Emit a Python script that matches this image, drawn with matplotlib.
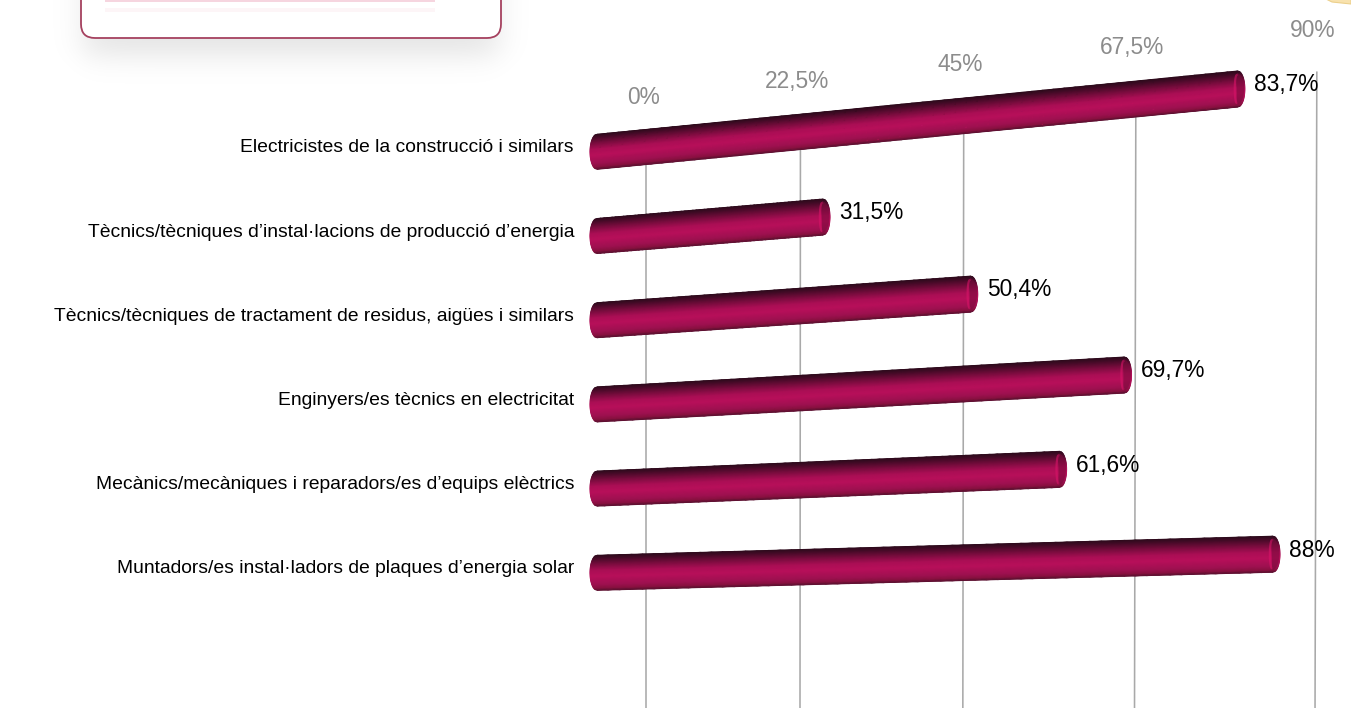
import numpy as np
import matplotlib
matplotlib.use("Agg")
import matplotlib.pyplot as plt
from matplotlib.colors import LinearSegmentedColormap
from matplotlib.patches import FancyBboxPatch, Polygon

categories = [
    "Electricistes de la construcció i similars",
    "Tècnics/tècniques d’instal·lacions de producció d’energia",
    "Tècnics/tècniques de tractament de residus, aigües i similars",
    "Enginyers/es tècnics en electricitat",
    "Mecànics/mecàniques i reparadors/es d’equips elèctrics",
    "Muntadors/es instal·ladors de plaques d’energia solar",
]
values = [83.7, 31.5, 50.4, 69.7, 61.6, 88.0]
value_labels = ["83,7%", "31,5%", "50,4%", "69,7%", "61,6%", "88%"]
ticks = [0, 22.5, 45, 67.5, 90]
tick_labels = ["0%", "22,5%", "45%", "67,5%", "90%"]

W, H = 1351, 708
plt.rcParams["font.family"] = ["Liberation Sans", "DejaVu Sans"]
fig = plt.figure(figsize=(W / 100, H / 100), dpi=100, facecolor="white")
ax = fig.add_axes([0, 0, 1, 1])
ax.set_xlim(0, W)
ax.set_ylim(H, 0)
ax.axis("off")


def bar_x(v):
    return 590 + 7.495 * v + 0.00393 * v * v


def bar_y(x, rank):
    return 152.5 + 84.1 * rank - (0.098 - 0.0141 * rank) * (x - 590)


def grid_x(v):
    return 646 + 6.648 * v + 0.00873 * v * v


# legend card shadow + card (cropped by the top of the picture)
yy, xx = np.mgrid[0:H // 2, 0:620]
def soft(a, lo, hi, s):
    return 0.5 * (np.tanh((a - lo) / s) - np.tanh((a - hi) / s))
sh = 0.105 * soft(xx + 0.5, 84, 498, 19) * soft(yy + 0.5, -60, 56, 17)
rgba = np.zeros(sh.shape + (4,))
rgba[..., 3] = sh
ax.imshow(rgba, extent=(0, 620, H // 2, 0), zorder=1, aspect="auto", interpolation="bilinear")
ax.set_xlim(0, W)
ax.set_ylim(H, 0)
ax.add_patch(FancyBboxPatch((81, -60), 420, 98, boxstyle="round,pad=0,rounding_size=14",
                            fc="white", ec="#a5415f", lw=1.3, zorder=2))
ax.add_patch(Polygon([(1326, -1), (1332, 2), (1351, 4), (1351, -1)], fc="#f8e2ae", ec="#ecd08c", lw=0.8, zorder=2))
ax.fill_between([105, 435], -1, 2, color="#f6d5df", lw=0, zorder=3)
ax.fill_between([105, 435], 8, 12, color="#fdf5f7", lw=0, zorder=3)

# gridlines
for t in ticks:
    x = grid_x(t)
    ax.plot([x + 0.02 * t, x], [bar_y(x, 0) - 10, H], color="#a9a9a9", lw=1.15, zorder=3, solid_capstyle="butt")

for t, lab in zip(ticks, tick_labels):
    ax.text(grid_x(t) - 2.5, 98 - 0.755 * t, lab, color="#8c8c8c", fontsize=16.4,
            ha="center", va="center", zorder=6)

# cylinders
cmap = LinearSegmentedColormap.from_list("cyl", [
    (0.00, "#2d0a1c"), (0.10, "#470a28"), (0.28, "#7d0c40"), (0.45, "#ab0e55"),
    (0.62, "#b80f5a"), (0.85, "#9e1050"), (0.96, "#86103f"), (1.00, "#5a1030"),
])
half = 17.5
rx = 7.0
s = np.linspace(-1, 1, 41)
for rank, (v, cat, lab) in enumerate(zip(values, categories, value_labels)):
    x_end = bar_x(v)
    u = np.linspace(0, 1, 60)
    bulge = np.sqrt(1 - s * s)
    X = np.empty((len(s), len(u)))
    Y = np.empty_like(X)
    for j, uu in enumerate(u):
        x_c = 590 + rx + (x_end - 590 - 2 * rx) * uu
        xs = x_c - rx * bulge * (1 - uu) + rx * bulge * uu
        X[:, j] = xs
        Y[:, j] = bar_y(x_c, rank) + s * half * (1 + 0.03 * uu)
    C = (s[:, None] + 1) / 2 * np.ones((1, len(u)))
    ax.pcolormesh(X, Y, C, cmap=cmap, vmin=0, vmax=1, shading="gouraud", zorder=4, rasterized=True)
    # end of the tube: bright ring then darker cap
    x_cap = x_end - rx
    th = np.linspace(-np.pi / 2, np.pi / 2, 40)
    yc = bar_y(x_cap, rank)
    ax.plot(x_cap - 1 + rx * np.cos(th) * -0.3, yc + half * 0.8 * np.sin(th), color="#d81468", lw=1.6, alpha=0.6, zorder=5)
    ax.fill(x_cap - 1 + rx * 1.05 * np.cos(th), yc + half * 0.9 * np.sin(th), color="#7a0b3c", alpha=0.55, lw=0, zorder=5)

    ax.text(574, bar_y(590, rank) - 4.5, cat, ha="right", va="center", fontsize=13.9, color="black", zorder=6)
    ax.text(x_end + 9, bar_y(x_end, rank) - 4, lab, ha="left", va="center", fontsize=16.4, color="black", zorder=7)

fig.savefig("out.png", dpi=100, facecolor="white")
